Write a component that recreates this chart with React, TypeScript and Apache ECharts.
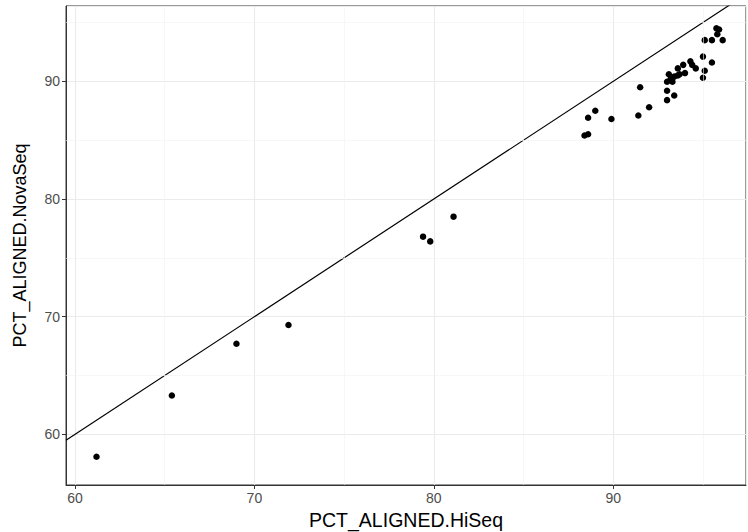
import React, { useEffect, useRef } from "react";
import * as echarts from "echarts";

const hiSeq = [
  61.2, 65.4, 69.0, 71.9, 79.4, 79.8, 81.1,
  88.4, 88.6, 88.6, 89.0, 89.9, 91.4, 91.5, 92.0,
  93.0, 93.0, 93.4, 93.0, 93.1, 93.3, 93.2, 93.4, 93.6, 93.6, 93.7, 93.9, 94.0,
  94.3, 94.4, 94.6, 95.0, 95.1, 95.0, 95.5, 95.1, 95.5, 95.75, 95.9, 95.8, 96.1,
];
const novaSeq = [
  58.1, 63.3, 67.7, 69.3, 76.8, 76.4, 78.5,
  85.4, 85.5, 86.9, 87.5, 86.8, 87.1, 89.5, 87.8,
  88.4, 89.2, 88.8, 89.96, 90.6, 89.96, 90.2, 90.4, 90.5, 91.1, 90.6, 91.4, 90.7,
  91.7, 91.4, 91.1, 92.1, 90.9, 90.3, 91.6, 93.5, 93.5, 94.5, 94.4, 94.0, 93.5,
];
const xRange = [59.5, 97.4];
const yRange = [55.7, 96.4];
const minorX = [65, 75, 85, 95];
const minorY = [65, 75, 85, 95];
const identityLine = [xRange[0], xRange[1]];

export default function App() {
  const ref = useRef<HTMLDivElement>(null);
  useEffect(() => {
    if (!ref.current) return;
    const chart = echarts.init(ref.current, null, { renderer: "svg" });
    const font = "Liberation Sans, Arial, sans-serif";
    const axisCommon = {
      type: "value",
      splitNumber: 4,
      axisLine: { show: true, lineStyle: { color: "#333333", width: 1 } },
      axisTick: { show: true, length: 4, lineStyle: { color: "#333333" } },
      axisLabel: {
        color: "#4d4d4d",
        fontSize: 14,
        fontFamily: font,
        showMinLabel: false,
        showMaxLabel: false,
        margin: 6,
      },
      splitLine: { show: true, lineStyle: { color: "#ebebeb", width: 1.1 } },
      nameLocation: "middle",
    };
    const minorStyle = { color: "#f2f2f2", width: 0.6, type: "solid" };
    chart.setOption({
      animation: false,
      backgroundColor: "#ffffff",
      grid: {
        left: 66,
        right: 2,
        top: 6,
        bottom: 47,
        containLabel: false,
        outerBoundsMode: "none",
        show: true,
        borderColor: "#333333",
        borderWidth: 1,
        backgroundColor: "transparent",
      },
      xAxis: {
        ...axisCommon,
        min: xRange[0],
        max: xRange[1],
        name: "PCT_ALIGNED.HiSeq",
        nameGap: 23,
        nameTextStyle: { color: "#000", fontSize: 19.5, fontFamily: font },
      },
      yAxis: {
        ...axisCommon,
        min: yRange[0],
        max: yRange[1],
        name: "PCT_ALIGNED.NovaSeq",
        nameGap: 37,
        nameTextStyle: { color: "#000", fontSize: 18, fontFamily: font },
      },
      series: [
        {
          type: "line",
          data: [],
          silent: true,
          markLine: {
            silent: true,
            symbol: "none",
            label: { show: false },
            lineStyle: minorStyle,
            data: [
              ...minorX.map((v) => ({ xAxis: v })),
              ...minorY.map((v) => ({ yAxis: v })),
            ],
          },
        },
        {
          type: "line",
          data: identityLine.map((v) => [v, v]),
          showSymbol: false,
          symbol: "none",
          lineStyle: { color: "#000", width: 1.2 },
          silent: true,
          z: 3,
        },
        {
          type: "scatter",
          data: hiSeq.map((x, i) => [x, novaSeq[i]]),
          symbolSize: 6.5,
          itemStyle: { color: "#000", opacity: 1 },
          z: 4,
        },
      ],
    });
    return () => chart.dispose();
  }, []);
  return <div ref={ref} style={{ width: 748, height: 532, position: "absolute", left: 0, top: 0 }} />;
}
